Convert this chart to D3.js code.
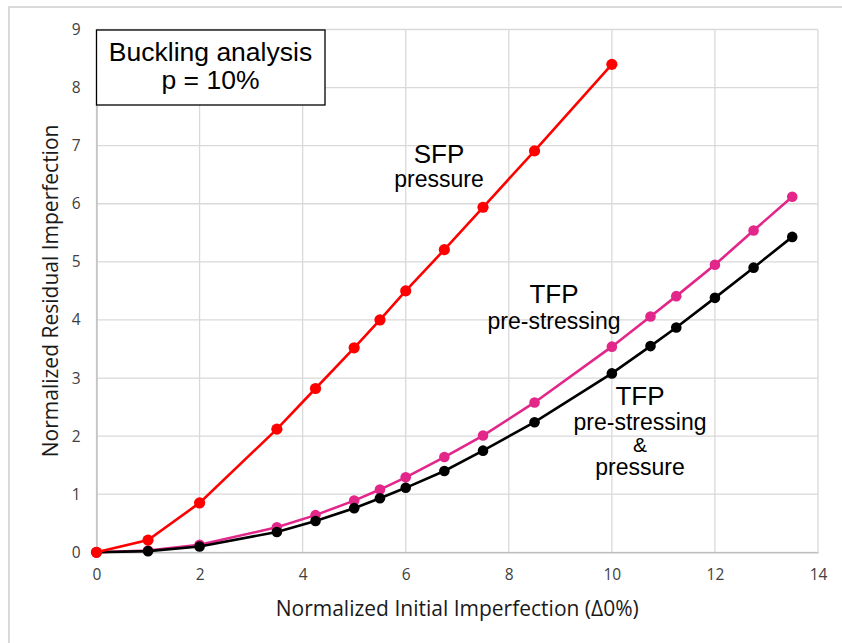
<!DOCTYPE html>
<html>
<head>
<meta charset="utf-8">
<script src="https://cdn.jsdelivr.net/npm/d3@7"></script>
<style>
  html, body { margin: 0; padding: 0; background: #fff; }
  svg { display: block; }
</style>
</head>
<body>
<svg id="chart" width="842" height="643"></svg>
<script>
// ---- Data ----
const sfpX = [0, 1, 2, 3.5, 4.25, 5, 5.5, 6, 6.75, 7.5, 8.5, 10];
const sfpY = [0, 0.21, 0.85, 2.12, 2.82, 3.52, 4.0, 4.5, 5.21, 5.94, 6.91, 8.4];

const tfpX = [0, 1, 2, 3.5, 4.25, 5, 5.5, 6, 6.75, 7.5, 8.5, 10, 10.75, 11.25, 12, 12.75, 13.5];
const tfpPreY = [0, 0.03, 0.13, 0.43, 0.64, 0.89, 1.08, 1.29, 1.64, 2.01, 2.58, 3.54, 4.06, 4.41, 4.95, 5.54, 6.12];
const tfpPrePressY = [0, 0.02, 0.10, 0.35, 0.54, 0.76, 0.93, 1.11, 1.40, 1.75, 2.24, 3.08, 3.55, 3.87, 4.38, 4.90, 5.43];

const xTicks = [0, 2, 4, 6, 8, 10, 12, 14];
const yTicks = [0, 1, 2, 3, 4, 5, 6, 7, 8, 9];

const xTitle = "Normalized Initial Imperfection (\u03940%)";
const yTitle = "Normalized Residual Imperfection";
const boxLines = ["Buckling analysis", "p = 10%"];

// ---- Layout ----
const svg = d3.select("#chart");
const plot = { left: 96.5, right: 818, top: 29.5, bottom: 552.3 };

const x = d3.scaleLinear().domain([0, 14]).range([plot.left, plot.right]);
const y = d3.scaleLinear().domain([0, 9]).range([plot.bottom, plot.top]);

// outer chart frame
svg.append("rect")
  .attr("x", 9).attr("y", 7).attr("width", 860).attr("height", 680)
  .attr("fill", "none").attr("stroke", "#d9d9d9").attr("stroke-width", 2);

// gridlines
const grid = svg.append("g");
grid.selectAll("line.vx").data(xTicks).join("line")
  .attr("x1", d => x(d)).attr("x2", d => x(d))
  .attr("y1", plot.top).attr("y2", plot.bottom)
  .attr("stroke", "#d9d9d9").attr("stroke-width", 1.3);
grid.selectAll("line.hy").data(yTicks).join("line")
  .attr("y1", d => y(d)).attr("y2", d => y(d))
  .attr("x1", plot.left).attr("x2", plot.right)
  .attr("stroke", "#d9d9d9").attr("stroke-width", 1.3);

// axes
const xAxis = d3.axisBottom(x).tickValues(xTicks).tickSize(0).tickPadding(17).tickFormat(d3.format("d"));
const yAxis = d3.axisLeft(y).tickValues(yTicks).tickSize(0).tickPadding(16).tickFormat(d3.format("d"));

const gx = svg.append("g").attr("transform", `translate(0,${plot.bottom})`).call(xAxis);
const gy = svg.append("g").attr("transform", `translate(${plot.left},0)`).call(yAxis);
[gx, gy].forEach(g => {
  g.select(".domain").attr("stroke", "#bfbfbf").attr("stroke-width", 1.5);
  g.selectAll("text").attr("font-family", "'Open Sans', sans-serif")
    .attr("font-size", 15.5).attr("fill", "#404040");
});

// axis titles
svg.append("text")
  .attr("x", (plot.left + plot.right) / 2).attr("y", 616)
  .attr("text-anchor", "middle")
  .attr("font-family", "'Open Sans', sans-serif").attr("font-size", 21).attr("fill", "#1a1a1a")
  .text(xTitle);
svg.append("text")
  .attr("transform", `translate(58,${(plot.top + plot.bottom) / 2}) rotate(-90)`)
  .attr("text-anchor", "middle")
  .attr("font-family", "'Open Sans', sans-serif").attr("font-size", 21).attr("fill", "#1a1a1a")
  .text(yTitle);

// series
function series(xs, ys, color, r) {
  const pts = xs.map((d, i) => [d, ys[i]]);
  const g = svg.append("g");
  g.append("path").datum(pts)
    .attr("fill", "none").attr("stroke", color).attr("stroke-width", 2.6)
    .attr("d", d3.line().x(d => x(d[0])).y(d => y(d[1])));
  g.selectAll("circle").data(pts).join("circle")
    .attr("cx", d => x(d[0])).attr("cy", d => y(d[1])).attr("r", r)
    .attr("fill", color);
}
series(tfpX, tfpPreY, "#E3268A", 5.3);
series(tfpX, tfpPrePressY, "#000000", 5.3);
series(sfpX, sfpY, "#FF0000", 5.6);

// text box
svg.append("rect")
  .attr("x", 96.5).attr("y", 30).attr("width", 228.5).attr("height", 75)
  .attr("fill", "#fff").attr("stroke", "#000").attr("stroke-width", 1.3);
svg.append("text").attr("x", 210.5).attr("y", 61)
  .attr("text-anchor", "middle").attr("font-family", "'Liberation Sans', Arial, sans-serif")
  .attr("font-size", 26.5).attr("fill", "#000").text(boxLines[0]);
svg.append("text").attr("x", 210.5).attr("y", 88.5)
  .attr("text-anchor", "middle").attr("font-family", "'Liberation Sans', Arial, sans-serif")
  .attr("font-size", 26.5).attr("fill", "#000").text(boxLines[1]);

// series labels
function label(cx, lines) {
  lines.forEach(l => {
    svg.append("text").attr("x", cx).attr("y", l.y)
      .attr("text-anchor", "middle").attr("font-family", "'Liberation Sans', Arial, sans-serif")
      .attr("font-size", l.s).attr("fill", "#000").text(l.t);
  });
}
label(439, [{ t: "SFP", y: 163, s: 26 }, { t: "pressure", y: 187, s: 23 }]);
label(554, [{ t: "TFP", y: 303, s: 26 }, { t: "pre-stressing", y: 329, s: 23 }]);
label(640, [{ t: "TFP", y: 405, s: 26 }, { t: "pre-stressing", y: 430, s: 23 },
            { t: "&", y: 452, s: 21 }, { t: "pressure", y: 475, s: 23 }]);
</script>
</body>
</html>
